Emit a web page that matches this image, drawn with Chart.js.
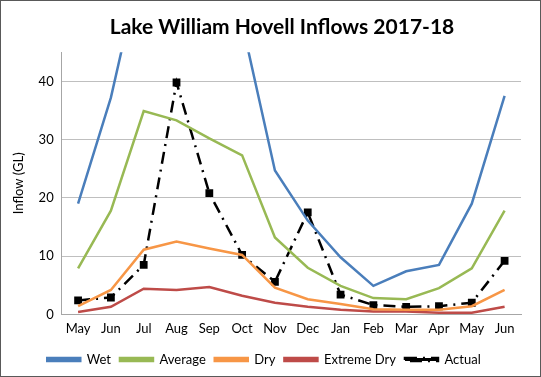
<!DOCTYPE html>
<html>
<head>
<meta charset="utf-8">
<script src="https://cdn.jsdelivr.net/npm/chart.js@4"></script>
<style>
  html, body { margin: 0; padding: 0; background: #fff; }
  #wrap { width: 541px; height: 377px; box-sizing: border-box; border: 1px solid #595959; position: relative; }
</style>
</head>
<body>
<div id="wrap"><canvas id="inflow-chart"></canvas></div>
<script>
const months = ['May', 'Jun', 'Jul', 'Aug', 'Sep', 'Oct', 'Nov', 'Dec', 'Jan', 'Feb', 'Mar', 'Apr', 'May', 'Jun'];

// GL per month (wet peaks run off the top)
const wet = [19, 37.2, 62, 75, 66, 50, 24.7, 16.1, 9.8, 4.9, 7.4, 8.5, 19, 37.5];
const average = [7.9, 17.8, 34.9, 33.3, 30.2, 27.3, 13.2, 8.0, 4.9, 2.8, 2.6, 4.5, 7.9, 17.8];
const dry = [1.4, 4.2, 11.1, 12.5, 11.3, 10.2, 4.6, 2.6, 1.8, 0.9, 0.8, 0.8, 1.4, 4.2];
const extremeDry = [0.4, 1.3, 4.4, 4.2, 4.7, 3.2, 2.0, 1.3, 0.8, 0.5, 0.5, 0.3, 0.3, 1.3];
const actual = [2.4, 2.9, 8.5, 39.8, 20.8, 10.2, 5.6, 17.5, 3.4, 1.6, 1.3, 1.4, 2.0, 9.2];

const yTicks = [0, 10, 20, 30, 40];

const font = 'Lato, "Liberation Sans", sans-serif';

function series(label, data, color) {
    return {
        label: label,
        data: data,
        borderColor: color,
        backgroundColor: color,
        borderWidth: 2.5,
        pointRadius: 0,
        tension: 0
    };
}

// Excel centres the title a little right of the canvas middle
const shiftTitle = {
    id: 'shiftTitle',
    afterLayout(chart) {
        if (chart.titleBlock) chart.titleBlock.left += 36;
    }
};

new Chart(document.getElementById('inflow-chart'), {
    type: 'line',
    data: {
        labels: months,
        datasets: [
            series('Wet', wet, '#4a7ebb'),
            series('Average', average, '#98b954'),
            series('Dry', dry, '#f79646'),
            series('Extreme Dry', extremeDry, '#be4b48'),
            {
                label: 'Actual',
                data: actual,
                borderColor: '#000',
                backgroundColor: '#000',
                borderWidth: 2.5,
                borderDash: [12, 6, 2, 6],
                pointStyle: 'rect',
                pointRadius: 5.5,
                pointBorderWidth: 0,
                tension: 0
            }
        ]
    },
    plugins: [shiftTitle],
    options: {
        responsive: true,
        maintainAspectRatio: false,
        animation: false,
        layout: { padding: { left: 6, right: 19, top: 4, bottom: 0 } },
        plugins: {
            title: {
                display: true,
                text: 'Lake William Hovell Inflows 2017-18',
                color: '#000',
                font: { family: font, size: 21, weight: 'bold' },
                padding: { top: 10, bottom: 12 }
            },
            legend: {
                position: 'bottom',
                labels: {
                    color: '#000',
                    boxWidth: 33,
                    boxHeight: 3,
                    padding: 9,
                    font: { family: font, size: 13 }
                }
            },
            tooltip: { enabled: false }
        },
        scales: {
            x: {
                offset: true,
                grid: { display: false, drawTicks: false },
                border: { color: '#a6a6a6' },
                ticks: { color: '#000', padding: 7, font: { family: font, size: 13 }, maxRotation: 0, autoSkip: false }
            },
            y: {
                min: 0,
                max: 45,
                afterBuildTicks: axis => { axis.ticks = yTicks.map(v => ({ value: v })); },
                grid: { color: '#bfbfbf', drawTicks: false },
                border: { color: '#a6a6a6' },
                ticks: { color: '#000', padding: 8, font: { family: font, size: 13 } },
                title: {
                    display: true,
                    text: 'Inflow (GL)',
                    color: '#000',
                    font: { family: font, size: 13 }
                }
            }
        }
    }
});
</script>
</body>
</html>
